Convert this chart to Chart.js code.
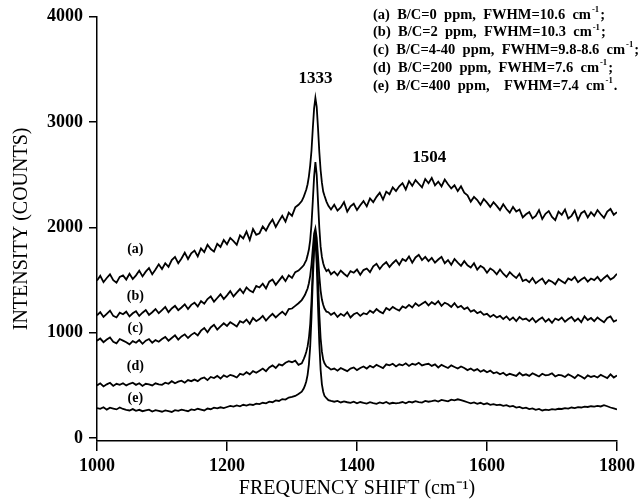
<!DOCTYPE html>
<html><head><meta charset="utf-8">
<script src="https://cdn.jsdelivr.net/npm/chart.js@4"></script>
<style>html,body{margin:0;padding:0;background:#fff;}#wrap{width:644px;height:501px;}</style>
</head><body><div id="wrap"><canvas id="c" width="644" height="501"></canvas></div>
<script>
const freq = [
1000,1005,1010,1015,1020,1025,1030,1035,1040,1045,
1050,1055,1060,1065,1070,1075,1080,1085,1090,1095,
1100,1105,1110,1115,1120,1125,1130,1135,1140,1145,
1150,1155,1160,1165,1170,1175,1180,1185,1190,1195,
1200,1205,1210,1215,1220,1225,1230,1235,1240,1245,
1250,1255,1260,1265,1270,1275,1280,1285,1290,1295,
1300,1305,1310,1315,
1318,1320,1322,1324,1326,1328,1330,1332,1334,1336,
1338,1340,1342,1344,1346,1348,1350,1353,1356,1360,
1365,1370,1375,1380,1385,1390,1395,1400,1405,1410,
1415,1420,1425,1430,1435,1440,1445,1450,1455,1460,
1465,1470,1475,1480,1485,1490,1495,1500,1505,1510,
1515,1520,1525,1530,1535,1540,1545,1550,1555,1560,
1565,1570,1575,1580,1585,1590,1595,1600,1605,1610,
1615,1620,1625,1630,1635,1640,1645,1650,1655,1660,
1665,1670,1675,1680,1685,1690,1695,1700,1705,1710,
1715,1720,1725,1730,1735,1740,1745,1750,1755,1760,
1765,1770,1775,1780,1785,1790,1795,1800];

const specA = [
1495,1540,1480,1520,1555,1500,1475,1530,1545,1505,
1560,1510,1545,1590,1535,1580,1615,1555,1600,1650,
1605,1660,1625,1690,1720,1660,1705,1760,1700,1755,
1780,1725,1800,1765,1835,1795,1770,1845,1815,1880,
1840,1900,1870,1835,1925,1895,1960,1880,1985,1930,
1945,2010,1970,2030,2075,2005,2060,2110,2055,2140,
2110,2190,2215,2250,
2290,2325,2360,2410,2485,2590,2730,2940,3130,3230,
3145,2945,2720,2545,2425,2340,2300,2245,2205,2170,
2215,2160,2190,2240,2150,2200,2225,2165,2210,2250,
2200,2275,2240,2290,2330,2265,2340,2315,2380,2345,
2390,2420,2360,2440,2395,2450,2415,2380,2460,2420,
2470,2400,2435,2390,2455,2410,2370,2400,2345,2390,
2330,2305,2245,2290,2260,2215,2270,2235,2195,2240,
2205,2165,2220,2175,2140,2195,2150,2170,2095,2125,
2145,2085,2110,2165,2080,2130,2155,2100,2070,2150,
2120,2170,2085,2110,2160,2070,2135,2155,2095,2145,
2110,2165,2125,2090,2150,2175,2120,2145];

const specB = [
1165,1195,1150,1180,1210,1160,1145,1190,1175,1200,
1155,1185,1205,1160,1190,1215,1170,1195,1225,1185,
1215,1245,1195,1230,1255,1215,1240,1270,1225,1265,
1285,1250,1300,1275,1320,1345,1295,1330,1365,1320,
1355,1395,1345,1380,1415,1375,1430,1400,1385,1445,
1430,1465,1420,1485,1505,1455,1495,1535,1490,1545,
1520,1575,1590,1620,
1640,1665,1690,1735,1790,1880,2030,2250,2480,2620,
2500,2250,2000,1820,1720,1660,1620,1585,1600,1555,
1580,1545,1590,1560,1535,1585,1570,1600,1550,1595,
1610,1575,1630,1655,1605,1645,1670,1625,1660,1690,
1645,1700,1680,1725,1665,1715,1740,1690,1720,1680,
1710,1665,1695,1720,1660,1690,1645,1700,1665,1635,
1680,1640,1620,1660,1600,1635,1615,1570,1610,1590,
1555,1600,1560,1530,1575,1545,1520,1560,1490,1505,
1480,1520,1470,1495,1515,1465,1500,1485,1460,1510,
1490,1470,1515,1500,1530,1480,1505,1525,1485,1515,
1500,1530,1490,1520,1545,1505,1525,1560];

const specC = [
925,945,910,935,955,915,900,940,925,910,
890,920,905,930,895,925,940,905,930,915,
940,960,925,950,975,935,965,985,950,980,
1000,975,1020,1045,1005,1050,1075,1030,1060,1090,
1065,1100,1080,1060,1110,1095,1125,1085,1140,1110,
1130,1160,1115,1150,1180,1145,1175,1200,1170,1225,
1230,1255,1280,1310,
1340,1360,1390,1420,1470,1540,1650,1800,1940,1990,
1900,1730,1540,1400,1315,1265,1230,1200,1195,1170,
1190,1150,1180,1160,1195,1145,1175,1190,1160,1185,
1175,1210,1190,1225,1200,1185,1235,1215,1245,1225,
1210,1250,1235,1265,1240,1280,1255,1275,1295,1260,
1290,1270,1300,1255,1285,1270,1245,1280,1240,1255,
1225,1240,1200,1215,1185,1200,1170,1180,1150,1170,
1145,1160,1130,1155,1120,1145,1110,1150,1125,1135,
1110,1140,1100,1125,1145,1105,1130,1095,1135,1120,
1145,1105,1130,1150,1110,1135,1100,1155,1120,1140,
1110,1145,1120,1100,1140,1155,1105,1120];

const specD = [
500,520,490,510,525,495,515,505,520,500,
515,525,505,520,495,515,510,500,520,510,
505,525,515,540,520,535,545,525,550,540,
555,540,565,575,550,580,570,590,565,595,
580,600,590,575,610,600,625,605,635,620,
640,660,635,670,690,665,700,690,715,730,
720,735,695,710,
750,780,820,870,950,1080,1300,1600,1850,1940,
1800,1500,1180,950,820,745,710,680,670,650,
660,640,665,650,635,660,670,645,665,680,
660,685,670,695,680,665,700,690,705,680,
700,690,710,685,705,695,715,690,700,705,
685,700,670,695,680,665,690,675,660,680,
665,645,660,640,655,630,645,625,640,615,
625,605,620,595,610,600,590,620,595,605,
590,615,600,585,610,595,600,615,585,600,
595,580,605,590,570,600,585,565,595,580,
590,575,600,585,570,605,575,595];

const specE = [
285,278,292,270,288,280,272,290,276,268,
262,275,258,268,255,263,270,252,265,258,
250,262,255,248,265,258,270,262,255,272,
265,278,270,262,280,274,288,282,292,285,
295,305,298,310,302,316,308,320,314,326,
322,335,330,345,340,358,352,370,365,385,
390,400,418,440,
470,500,540,600,700,870,1150,1500,1780,1880,
1650,1250,900,650,510,440,400,378,360,352,
345,352,338,348,340,335,346,330,342,334,
328,340,332,325,338,330,342,326,335,330,
335,342,330,345,338,350,342,336,352,345,
350,358,346,362,355,348,365,358,368,360,
350,340,330,338,325,335,320,330,315,322,
312,318,305,312,298,305,290,296,282,288,
275,282,268,276,262,270,266,274,270,278,
276,284,280,290,285,294,290,298,295,302,
298,305,300,312,302,290,282,272];

const xTicks = [1000,1200,1400,1600,1800];
const yTicks = [0,1000,2000,3000,4000];
const curveLabels = ['(a)','(b)','(c)','(d)','(e)'];
const curveLabelFreq = [1059,1059,1059,1059,1059];
const curveLabelVal = [1790,1341,1041,678,378];
const peakLabels = ['1333','1504'];
const peakLabelFreq = [1336,1511];
const peakLabelVal = [3410,2660];
const legendLines = [
'(a)  B/C=0  ppm,  FWHM=10.6  cm⁻¹;',
'(b)  B/C=2  ppm,  FWHM=10.3  cm⁻¹;',
'(c)  B/C=4-40  ppm,  FWHM=9.8-8.6  cm⁻¹;',
'(d)  B/C=200  ppm,  FWHM=7.6  cm⁻¹;',
'(e)  B/C=400  ppm,    FWHM=7.4  cm⁻¹.'];

const FAM = '"Liberation Serif","Times New Roman",serif';
const series = [specA, specB, specC, specD, specE];

function drawSup(ctx, text, x0, y0, size){
  const parts = text.split('⁻¹');
  let x = x0;
  parts.forEach((p,i)=>{
    ctx.font = 'bold ' + size + 'px ' + FAM;
    ctx.fillText(p, x, y0);
    x += ctx.measureText(p).width;
    if (i < parts.length - 1){
      ctx.font = 'bold ' + (size*0.6) + 'px ' + FAM;
      ctx.fillText('-1', x + 1, y0 - size*0.33);
      x += ctx.measureText('-1').width + 2;
    }
  });
}

const textPlugin = {
  id: 'texts',
  afterDraw(chart){
    const {ctx} = chart;
    const xs = chart.scales.x, ys = chart.scales.y;
    ctx.save();
    ctx.fillStyle = '#000';
    ctx.textAlign = 'center';
    ctx.textBaseline = 'middle';
    ctx.font = 'bold 17px ' + FAM;
    peakLabels.forEach((t,i)=>ctx.fillText(t, xs.getPixelForValue(peakLabelFreq[i]), ys.getPixelForValue(peakLabelVal[i])));
    ctx.font = 'bold 14px ' + FAM;
    curveLabels.forEach((t,i)=>ctx.fillText(t, xs.getPixelForValue(curveLabelFreq[i]), ys.getPixelForValue(curveLabelVal[i])));
    ctx.textAlign = 'left';
    const ly = [15, 32.5, 50, 68, 86];
    legendLines.forEach((t,i)=>drawSup(ctx, t, 373, ly[i], 14.5));
    ctx.restore();
  }
};

new Chart(document.getElementById('c'), {
  type: 'line',
  data: {
    datasets: series.map(s => ({
      data: freq.map((f,i)=>({x:f, y:s[i]})),
      borderColor: '#000',
      borderWidth: 1.8,
      pointRadius: 0,
      tension: 0,
      fill: false
    }))
  },
  options: {
    responsive: false,
    animation: false,
    devicePixelRatio: 1,
    layout: {padding: {top: 16, right: 27, left: 0, bottom: 0}},
    plugins: {legend: {display: false}, tooltip: {enabled: false}},
    scales: {
      x: {
        type: 'linear', min: 1000, max: 1800,
        afterBuildTicks: s => { s.ticks = xTicks.map(v => ({value: v})); },
        afterFit: s => { s.height = 60; },
        ticks: {color: '#000', font: {family: FAM, size: 18, weight: 'bold'}, padding: 5, maxRotation: 0, callback: v => String(v)},
        grid: {drawOnChartArea: false, drawTicks: true, tickLength: 10, color: '#000', lineWidth: 1.5},
        border: {display: true, color: '#000', width: 1.5},
        title: {display: true, text: 'FREQUENCY SHIFT (cm⁻¹)', color: '#000', font: {family: FAM, size: 20}, padding: 0}
      },
      y: {
        type: 'linear', min: -28, max: 4000,
        afterBuildTicks: s => { s.ticks = yTicks.map(v => ({value: v})); },
        afterFit: s => { s.width = 97; },
        ticks: {color: '#000', font: {family: FAM, size: 18, weight: 'bold'}, padding: 6, callback: v => String(v)},
        grid: {drawOnChartArea: false, drawTicks: true, tickLength: 8, color: '#000', lineWidth: 1.5},
        border: {display: true, color: '#000', width: 1.5},
        title: {display: true, text: 'INTENSITY (COUNTS)', color: '#000', font: {family: FAM, size: 20}, padding: {top: 10, bottom: 0}}
      }
    }
  },
  plugins: [textPlugin]
});
</script>
</body></html>
